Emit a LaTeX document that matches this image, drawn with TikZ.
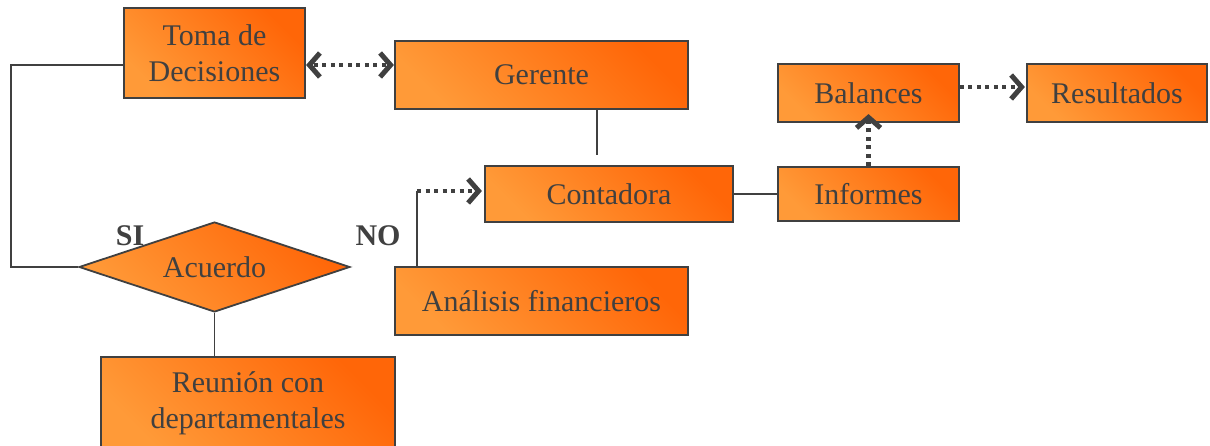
\documentclass[tikz,border=0pt]{standalone}
\usepackage{fontspec}
\setmainfont{Liberation Serif}
\usetikzlibrary{shapes.geometric,calc}
\definecolor{ink}{HTML}{404040}
\definecolor{orD}{HTML}{FF6608}
\definecolor{orL}{HTML}{FF9A38}
\tikzset{
  box/.style={draw=ink, line width=1.8pt, rectangle, inner sep=0pt, align=center,
    top color=orD, bottom color=orL, shading angle=-45, text=ink,
    font=\fontsize{30}{36}\selectfont},
  decision/.style={box, diamond, aspect=3},
  conn/.style={draw=ink, line width=1.4pt},
  dotline/.style={draw=ink, line width=4.2pt, dash pattern=on 4pt off 4.5pt},
  chev/.pic={\draw[ink, line width=5pt, line join=miter, line cap=butt] (-14,-12) -- (-3.5,0) -- (-14,12);},
  lbl/.style={text=ink, font=\fontsize{30}{36}\selectfont\bfseries, inner sep=0pt}
}
\begin{document}
\begin{tikzpicture}[x=1pt,y=-1pt]
\clip (0,0) rectangle (1210,446);
\useasboundingbox (0,0) rectangle (1210,446);
% nodes
\node[box, minimum width=181pt, minimum height=90pt] (toma) at (214.5,53) {Toma de\\Decisiones};
\node[box, minimum width=293pt, minimum height=68pt] (gerente) at (541.5,75) {Gerente};
\node[box, minimum width=248pt, minimum height=56pt] (contadora) at (609,194) {Contadora};
\node[box, minimum width=181pt, minimum height=54pt] (informes) at (868.5,194) {Informes};
\node[box, minimum width=181pt, minimum height=58pt] (balances) at (868.5,93) {Balances};
\node[box, minimum width=180pt, minimum height=58pt] (resultados) at (1117,93) {Resultados};
\node[box, minimum width=293pt, minimum height=68pt] (analisis) at (541.5,301) {Análisis financieros};
\node[decision, minimum width=271pt, minimum height=90pt] (acuerdo) at (214.5,267) {Acuerdo};
\node[box, minimum width=294pt, minimum height=92pt] (reunion) at (248,403) {Reunión con\\departamentales};
\node[lbl] (si) at (130,236) {SI};
\node[lbl] (no) at (378,236) {NO};
% helper coordinates
\coordinate (bendL) at (11,65);
\coordinate (gend) at (597,155);
\coordinate (aL) at (417,191);
\coordinate (tgL) at ([yshift=-12pt]toma.east);
\coordinate (tgR) at (gerente.west |- tgL);
\coordinate (bT) at ([yshift=9pt]balances.south);
\coordinate (brL) at (balances.east |- 0,87);
\coordinate (brR) at ([xshift=-1pt]resultados.west |- 0,87);
\coordinate (acR) at ([xshift=-2pt]contadora.west |- aL);
% connectors
\draw[conn] ([yshift=-12pt]toma.west) -- (bendL) |- (acuerdo.west);
\draw[dotline, shorten <=8pt, shorten >=8pt] (tgL) -- (tgR);
\pic[rotate=180] at (tgL) {chev};
\pic at (tgR) {chev};
\draw[conn] (gerente.south -| gend) -- (gend);
\draw[conn] (contadora.east) -- (informes.west);
\draw[dotline, shorten >=8pt] (informes.north) -- (bT);
\pic[rotate=90] at (bT) {chev};
\draw[dotline, shorten >=8pt] (brL) -- (brR);
\pic at (brR) {chev};
\draw[conn] (analisis.north -| aL) -- (aL);
\draw[dotline, shorten >=8pt] (aL) -- (acR);
\pic at (acR) {chev};
\draw[conn] (acuerdo.south) -- (reunion.north -| acuerdo.south);
\end{tikzpicture}
\end{document}
